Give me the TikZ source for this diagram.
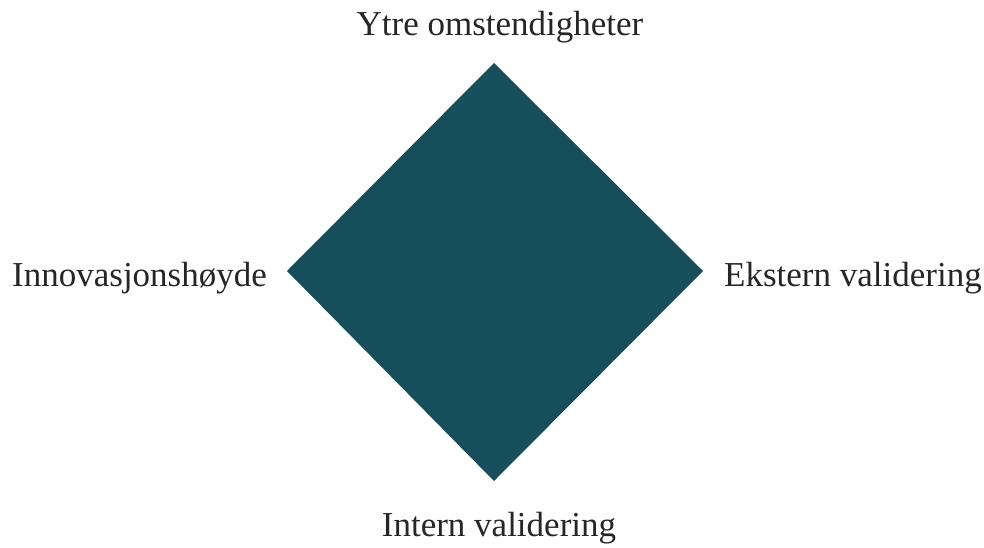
\documentclass[tikz,border=0pt]{standalone}
\usepackage{fontspec}
\setmainfont{Liberation Serif}
\definecolor{teal}{HTML}{174E5C}
\begin{document}
\begin{tikzpicture}[x=1pt,y=-1pt,
  lbl/.style={font=\fontsize{35}{41}\selectfont, text=black!85, inner sep=0pt}]
\useasboundingbox (0,0) rectangle (984,548);
% central diamond
\coordinate (t) at (494,63);
\coordinate (r) at (703,271);
\coordinate (b) at (494,481);
\coordinate (l) at (287,271);
\fill[teal] (t) -- (r) -- (b) -- (l) -- cycle;
% corner labels
\node[lbl, anchor=base] (top) at (500,36) {Ytre omstendigheter};
\node[lbl, anchor=base west] (left) at (12,286) {Innovasjonshøyde};
\node[lbl, anchor=base west] (right) at (724,286) {Ekstern validering};
\node[lbl, anchor=base] (bottom) at (499,536) {Intern validering};
\end{tikzpicture}
\end{document}
